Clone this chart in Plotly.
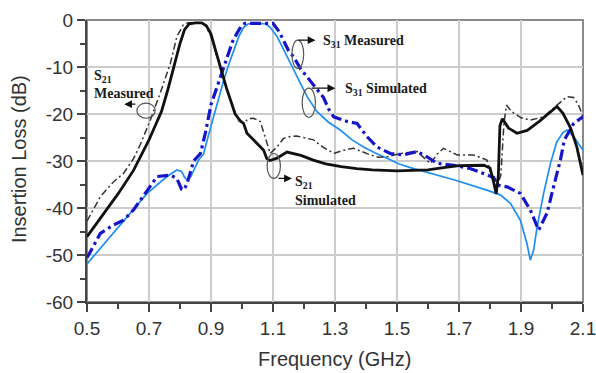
import plotly.graph_objects as go

# ---------------- data ----------------
s21_sim_f = [0.5, 0.55, 0.6, 0.65, 0.7, 0.72, 0.74, 0.76, 0.78, 0.8, 0.815, 0.83, 0.85, 0.87, 0.885,
             0.9, 0.915, 0.93, 0.95, 0.978, 0.995, 1.005, 1.016, 1.037, 1.07, 1.08, 1.09, 1.113, 1.145,
             1.19, 1.23, 1.27, 1.32, 1.37, 1.42, 1.5, 1.6, 1.65, 1.7, 1.78, 1.8, 1.81, 1.82, 1.827,
             1.832, 1.84, 1.86, 1.887, 1.92, 1.96, 2.0, 2.016, 2.035, 2.06, 2.08, 2.1]
s21_sim_db = [-46.1, -41.5, -37.0, -32.0, -25.5, -22.5, -19.5, -15.0, -10.0, -5.0, -2.0, -0.8, -0.6, -0.6, -1.2,
              -3.0, -6.5, -10.0, -14.5, -20.0, -21.5, -22.0, -24.1, -25.5, -27.7, -29.5, -29.9, -29.4, -28.1,
              -28.8, -29.8, -30.6, -31.2, -31.6, -31.9, -32.1, -31.9, -31.4, -31.0, -30.9, -31.5, -34.0, -37.0, -33.0,
              -22.5, -21.0, -23.0, -24.1, -23.5, -21.5, -19.3, -18.4, -19.8, -23.0, -27.0, -33.0]

s21_meas_f = [0.5, 0.543, 0.586, 0.618, 0.65, 0.672, 0.704, 0.736, 0.769, 0.79, 0.81, 0.825, 0.87, 0.885,
              0.9, 0.915, 0.93, 0.95, 0.97, 0.99, 1.005, 1.02, 1.037, 1.059, 1.075, 1.091, 1.113, 1.134,
              1.156, 1.177, 1.231, 1.26, 1.296, 1.328, 1.36, 1.414, 1.44, 1.468, 1.51, 1.565, 1.59, 1.608,
              1.63, 1.65, 1.694, 1.747, 1.79, 1.81, 1.82, 1.835, 1.845, 1.853, 1.87, 1.9, 1.93, 1.973,
              2.01, 2.048, 2.07, 2.085, 2.1]
s21_meas_db = [-42.8, -37.6, -34.4, -32.6, -29.5, -26.5, -21.3, -15.6, -9.2, -3.5, -1.1, -0.6, -0.6, -1.5,
               -3.5, -7.0, -10.2, -14.5, -18.5, -21.5, -22.0, -21.0, -20.9, -21.6, -25.0, -28.4, -27.0, -25.2,
               -24.8, -24.7, -25.5, -27.0, -28.4, -27.7, -27.3, -28.7, -29.2, -29.1, -28.4, -28.0, -29.5, -30.5,
               -28.5, -27.3, -28.7, -28.7, -29.8, -34.0, -36.0, -33.0, -22.0, -18.1, -19.5, -20.8, -21.3, -20.6,
               -18.5, -16.3, -16.5, -18.0, -20.6]

s31_meas_f = [0.5, 0.543, 0.586, 0.618, 0.65, 0.694, 0.726, 0.769, 0.79, 0.805, 0.812, 0.823, 0.844, 0.866,
              0.882, 0.9, 0.919, 0.935, 0.952, 0.97, 0.984, 1.0, 1.01, 1.1, 1.12, 1.134, 1.15, 1.166, 1.19,
              1.21, 1.242, 1.263, 1.28, 1.296, 1.339, 1.371, 1.403, 1.435, 1.478, 1.521, 1.565, 1.597, 1.629,
              1.683, 1.736, 1.79, 1.812, 1.823, 1.855, 1.898, 1.93, 1.957, 1.984, 2.005, 2.027, 2.04, 2.07, 2.1]
s31_meas_db = [-50.6, -45.4, -43.6, -42.6, -40.4, -36.2, -33.3, -33.0, -33.7, -36.0, -36.2, -34.8, -30.0, -28.4,
               -24.0, -18.0, -14.2, -11.0, -7.8, -4.5, -2.8, -1.0, -0.7, -0.7, -2.5, -4.3, -6.5, -7.8, -10.5,
               -12.1, -14.9, -16.5, -19.0, -20.6, -21.6, -22.0, -24.8, -27.0, -28.4, -28.7, -28.0, -29.1, -30.5,
               -30.9, -31.6, -33.0, -33.5, -35.1, -35.5, -36.9, -40.4, -44.7, -41.1, -35.5, -29.8, -25.5, -22.0, -20.6]

s31_sim_f = [0.5, 0.6, 0.694, 0.758, 0.79, 0.805, 0.815, 0.823, 0.835, 0.86, 0.876, 0.892, 0.908, 0.925,
             0.941, 0.957, 0.973, 0.99, 1.005, 1.02, 1.075, 1.09, 1.113, 1.145, 1.177, 1.21, 1.242, 1.28,
             1.317, 1.355, 1.392, 1.43, 1.468, 1.505, 1.543, 1.608, 1.683, 1.79, 1.833, 1.866, 1.898, 1.919,
             1.93, 1.941, 1.952, 1.973, 1.995, 2.015, 2.035, 2.048, 2.07, 2.1]
s31_sim_db = [-51.9, -44.2, -36.9, -33.3, -31.9, -32.2, -33.5, -34.0, -33.3, -29.8, -28.5, -24.5, -20.6, -16.5,
              -12.8, -9.5, -6.4, -3.5, -1.6, -0.8, -0.8, -1.5, -3.5, -7.8, -12.1, -16.3, -19.5, -21.8,
              -23.4, -25.5, -27.0, -28.3, -29.4, -30.6, -31.4, -32.6, -34.0, -36.2, -37.2, -39.0, -42.6, -47.5,
              -51.1, -48.9, -44.0, -36.9, -30.5, -26.0, -24.0, -23.4, -24.8, -27.7]

x_tick_vals = [0.5, 0.7, 0.9, 1.1, 1.3, 1.5, 1.7, 1.9, 2.1]
x_tick_text = ["0.5", "0.7", "0.9", "1.1", "1.3", "1.5", "1.7", "1.9", "2.1"]
y_tick_vals = [0, -10, -20, -30, -40, -50, -60]
y_tick_text = ["0", "-10", "-20", "-30", "-40", "-50", "-60"]

x_title = "Frequency (GHz)"
y_title = "Insertion Loss (dB)"

# ---------------- figure ----------------
fig = go.Figure()
fig.add_trace(go.Scatter(x=s31_sim_f, y=s31_sim_db, mode="lines", name="S31 Simulated",
                         line=dict(color="#1e8ff0", width=1.7)))
fig.add_trace(go.Scatter(x=s21_meas_f, y=s21_meas_db, mode="lines", name="S21 Measured",
                         line=dict(color="#333333", width=1.5, dash="7px,3px,2px,3px")))
fig.add_trace(go.Scatter(x=s31_meas_f, y=s31_meas_db, mode="lines", name="S31 Measured",
                         line=dict(color="#1616c8", width=3.2, dash="11px,4px,3px,4px")))
fig.add_trace(go.Scatter(x=s21_sim_f, y=s21_sim_db, mode="lines", name="S21 Simulated",
                         line=dict(color="#111111", width=2.8)))

axis_font = dict(family="Liberation Sans, Arial", size=19, color="#333333")
title_font = dict(family="Liberation Sans, Arial", size=20, color="#333333")

fig.update_xaxes(range=[0.5, 2.1], tickvals=x_tick_vals, ticktext=x_tick_text,
                 ticks="outside", ticklen=8, tickwidth=2, tickcolor="#444444",
                 minor=dict(dtick=0.1, tick0=0.5, ticks="outside", ticklen=5, tickwidth=2,
                            tickcolor="#444444", showgrid=False),
                 showgrid=True, gridcolor="#cccccc", gridwidth=1.5,
                 showline=True, linecolor="#444444", linewidth=2,
                 tickfont=axis_font, zeroline=False, automargin=False,
                 ticklabeloverflow="allow")
fig.update_yaxes(range=[-60, 0], tickvals=y_tick_vals, ticktext=y_tick_text,
                 ticks="outside", ticklen=8, tickwidth=2, tickcolor="#444444",
                 minor=dict(dtick=5, tick0=0, ticks="outside", ticklen=5, tickwidth=2,
                            tickcolor="#444444", showgrid=False),
                 showgrid=True, gridcolor="#cccccc", gridwidth=1.5,
                 showline=True, linecolor="#444444", linewidth=2,
                 tickfont=axis_font, zeroline=False, automargin=False,
                 ticklabeloverflow="allow")

# axis titles
fig.add_annotation(x=0.498, y=-0.202, xref="paper", yref="paper", text=x_title, showarrow=False,
                   xanchor="center", yanchor="middle", font=title_font)
fig.add_annotation(x=-0.137, y=0.507, xref="paper", yref="paper", text=y_title, showarrow=False,
                   xanchor="center", yanchor="middle", textangle=-90, font=title_font)

# frame (top / right borders)
fig.add_shape(type="rect", xref="paper", yref="paper", x0=0, y0=0, x1=1, y1=1,
              line=dict(color="#8a8a8a", width=2), layer="below")

# ellipses around curves
ell = dict(color="#555555", width=1.2)
fig.add_shape(type="circle", xref="x", yref="y", x0=0.661, x1=0.720, y0=-17.7, y1=-20.9, line=ell)
fig.add_shape(type="circle", xref="x", yref="y", x0=1.161, x1=1.199, y0=-4.3, y1=-10.3, line=ell)
fig.add_shape(type="circle", xref="x", yref="y", x0=1.194, x1=1.237, y0=-14.5, y1=-20.7, line=ell)
fig.add_shape(type="circle", xref="x", yref="y", x0=1.081, x1=1.124, y0=-28.4, y1=-33.7, line=ell)

# arrows
arrows = [((0.620, -17.9), (0.661, -17.9)),
          ((1.237, -4.3), (1.177, -4.3)),
          ((1.301, -14.5), (1.220, -14.5)),
          ((1.161, -33.7), (1.113, -33.7))]
for (hx, hy), (tx, ty) in arrows:
    fig.add_annotation(x=hx, y=hy, ax=tx, ay=ty, xref="x", yref="y", axref="x", ayref="y",
                       showarrow=True, arrowhead=2, arrowsize=1.2, arrowwidth=1.3,
                       arrowcolor="#111111", text="")

lab_font = dict(family="Liberation Serif, Times New Roman", size=14, color="#1a1a1a")
labels = [(0.517, -12.1, "<b>S<sub>21</sub></b>"),
          (0.517, -15.6, "<b>Measured</b>"),
          (1.2535, -4.5, "<b>S<sub>31</sub> Measured</b>"),
          (1.327, -14.7, "<b>S<sub>31</sub> Simulated</b>"),
          (1.166, -34.5, "<b>S<sub>21</sub></b>"),
          (1.166, -38.3, "<b>Simulated</b>")]
for lx, ly, lt in labels:
    fig.add_annotation(x=lx, y=ly, xref="x", yref="y", text=lt, showarrow=False,
                       xanchor="left", yanchor="middle", font=lab_font)

fig.update_layout(width=596, height=373, margin=dict(l=87, r=13, t=20, b=71, autoexpand=False),
                  paper_bgcolor="white", plot_bgcolor="white", showlegend=False)

fig.write_html("out.html")
